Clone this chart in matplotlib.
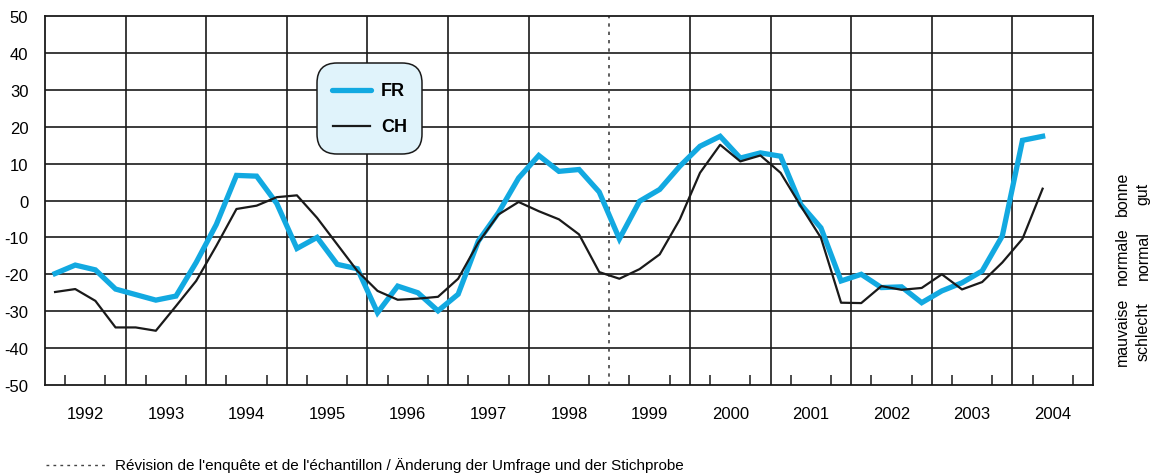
import matplotlib.pyplot as plt
from matplotlib.patches import FancyBboxPatch
from matplotlib.lines import Line2D
from matplotlib.transforms import IdentityTransform

plt.rcParams['font.family'] = ['Liberation Sans', 'DejaVu Sans']

# quarterly values, 1992 Q1 .. 2004 Q2
years = list(range(1992, 2005))
fr = [-19.8, -17.5, -18.8, -24.0,
      -25.5, -27.0, -25.9, -16.8,
      -6.5, 6.8, 6.6, -0.8,
      -13.0, -10.0, -17.3, -18.5,
      -30.4, -23.2, -25.0, -29.9,
      -25.4, -11.0, -3.3, 6.1,
      12.2, 7.9, 8.4, 2.3,
      -10.4, -0.2, 3.0, 9.3,
      14.7, 17.4, 11.5, 12.9,
      12.0, -1.1, -7.4, -21.8,
      -20.0, -23.6, -23.4, -27.7,
      -24.5, -22.3, -19.1, -9.6,
      16.3, 17.4]
ch = [-24.8, -24.0, -27.2, -34.4,
      -34.4, -35.3, -28.6, -21.8,
      -12.3, -2.3, -1.4, 0.9,
      1.4, -4.7, -11.9, -19.1,
      -24.5, -26.9, -26.6, -26.1,
      -21.2, -11.4, -3.8, -0.4,
      -2.9, -5.1, -9.2, -19.4,
      -21.2, -18.6, -14.6, -5.1,
      7.5, 15.1, 10.6, 12.2,
      7.5, -1.5, -10.1, -27.7,
      -27.8, -23.2, -24.2, -23.7,
      -20.0, -24.1, -22.1, -16.8,
      -10.4, 3.2]
x = [1992 + i * 0.25 + 0.125 for i in range(len(fr))]

blue = '#12a9e1'

fig = plt.figure(figsize=(11.6, 4.77), dpi=100)
ax = fig.add_axes([45 / 1160, 91 / 477, 1048 / 1160, 369 / 477])
ax.set_xlim(1992, 2005)
ax.set_ylim(-50, 50)

# grid
for v in range(-40, 50, 10):
    ax.axhline(v, color='#1a1a1a', lw=1.2, zorder=1)
for yr in range(1993, 2005):
    if yr == 1999:
        ax.axvline(yr, color='#444444', lw=1.2, ls=(0, (2, 3)), zorder=1)
    else:
        ax.axvline(yr, color='#1a1a1a', lw=1.2, zorder=1)

ax.plot(x, fr, color=blue, lw=3.8, zorder=3, solid_joinstyle='miter')
ax.plot(x, ch, color='#1a1a1a', lw=1.6, zorder=4)

ax.set_yticks(range(-50, 60, 10))
ax.set_yticklabels([str(v) for v in range(-50, 60, 10)], fontsize=12)
ax.tick_params(axis='y', length=0, pad=12)
ax.set_xticks([y + q for y in years for q in (0.25, 0.5, 0.75)], minor=True)
ax.set_xticks([y + 0.5 for y in years])
ax.set_xticklabels([str(y) for y in years], fontsize=12)
ax.tick_params(axis='x', which='major', length=0, pad=15)
ax.tick_params(axis='x', which='minor', direction='in', length=7, width=1.1, color='#1a1a1a')
for s in ax.spines.values():
    s.set_color('#1a1a1a')
    s.set_linewidth(1.3)

# legend box (pixel coordinates)
box = FancyBboxPatch((317, 477 - 155), 105, 91,
                     boxstyle='round,pad=0,rounding_size=20', transform=IdentityTransform(),
                     facecolor='#e0f3fb', edgecolor='#1a1a1a', lw=1.1, zorder=10)
fig.patches.append(box)
fig.add_artist(Line2D([332 / 1160, 371 / 1160], [1 - 91 / 477] * 2, color=blue, lw=3.8,
                      solid_capstyle='round', zorder=11))
fig.add_artist(Line2D([333 / 1160, 370 / 1160], [1 - 127 / 477] * 2, color='#1a1a1a', lw=1.6,
                      zorder=11))
fig.text(381 / 1160, 1 - 91 / 477, 'FR', fontsize=13, fontweight='bold', va='center', zorder=12)
fig.text(381 / 1160, 1 - 127 / 477, 'CH', fontsize=13, fontweight='bold', va='center', zorder=12)

# right side labels
for yc, a, b in [(194, 'bonne', 'gut'), (256, 'normale', 'normal'), (332, 'mauvaise', 'schlecht')]:
    fig.text(1122 / 1160, 1 - yc / 477, a, rotation=90, fontsize=11.5, ha='center', va='center')
    fig.text(1143 / 1160, 1 - yc / 477, b, rotation=90, fontsize=11.5, ha='center', va='center')

# footer note
fig.add_artist(Line2D([46 / 1160, 106 / 1160], [1 - 466 / 477] * 2, color='#444444', lw=1,
                      ls=(0, (2, 3))))
fig.text(115 / 1160, 1 - 466 / 477,
         "Révision de l'enquête et de l'échantillon / Änderung der Umfrage und der Stichprobe",
         fontsize=11, va='center')

fig.savefig('out.png', dpi=100)
